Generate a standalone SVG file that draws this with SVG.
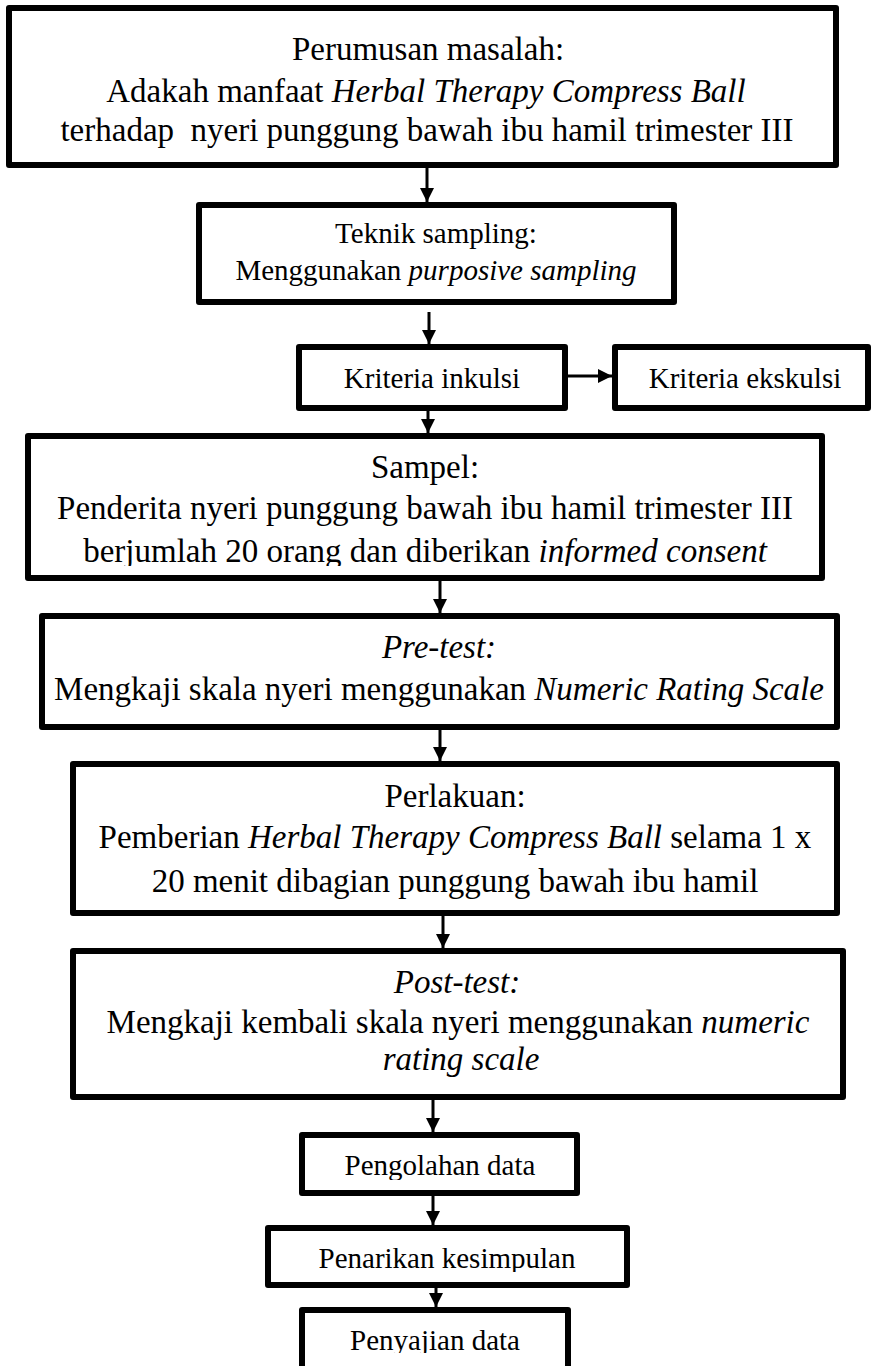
<svg xmlns="http://www.w3.org/2000/svg" width="871" height="1366" viewBox="0 0 871 1366">
<style>
.box{fill:#fff;stroke:#000;stroke-width:6;stroke-linejoin:round}
.t{font-family:"Liberation Serif","Times New Roman",serif;fill:#000;text-anchor:middle}
.L{font-size:33px}
.S{font-size:29px}
.i{font-style:italic}
.c{stroke:#000;stroke-width:3;fill:none}
</style>
<defs>
<marker id="ah" viewBox="0 0 14 14" refX="14" refY="7" markerWidth="14" markerHeight="14" markerUnits="userSpaceOnUse" orient="auto">
<path d="M0,0 L14,7 L0,14 z" fill="#000"/>
</marker>
<clipPath id="cl5"><rect x="0" y="420" width="871" height="146"/></clipPath>
<clipPath id="cl9"><rect x="0" y="1130" width="871" height="50"/></clipPath>
<clipPath id="cl10"><rect x="0" y="1225" width="871" height="47"/></clipPath>
<clipPath id="cl11"><rect x="0" y="1305" width="871" height="48"/></clipPath>
</defs>
<rect width="871" height="1366" fill="#fff"/>

<g id="connectors">
<line class="c" x1="427" y1="168" x2="427" y2="202" marker-end="url(#ah)"/>
<line class="c" x1="429" y1="312" x2="429" y2="344" marker-end="url(#ah)"/>
<line class="c" x1="568" y1="376" x2="612" y2="376" marker-end="url(#ah)"/>
<line class="c" x1="428" y1="411" x2="428" y2="433" marker-end="url(#ah)"/>
<line class="c" x1="440" y1="581" x2="440" y2="613" marker-end="url(#ah)"/>
<line class="c" x1="440" y1="730" x2="440" y2="761" marker-end="url(#ah)"/>
<line class="c" x1="443" y1="916" x2="443" y2="948" marker-end="url(#ah)"/>
<line class="c" x1="433" y1="1100" x2="433" y2="1132" marker-end="url(#ah)"/>
<line class="c" x1="433" y1="1196" x2="433" y2="1225" marker-end="url(#ah)"/>
<line class="c" x1="436" y1="1288" x2="436" y2="1307" marker-end="url(#ah)"/>
</g>

<g id="perumusan">
<rect class="box" x="9" y="8" width="827" height="157"/>
<text class="t L" x="428" y="60">Perumusan masalah:</text>
<text class="t L" x="426" y="102">Adakah manfaat <tspan class="i">Herbal Therapy Compress Ball</tspan></text>
<text class="t L" x="427" y="141" xml:space="preserve">terhadap  nyeri punggung bawah ibu hamil trimester III</text>
</g>

<g id="teknik">
<rect class="box" x="199" y="205" width="475" height="97"/>
<text class="t S" x="436" y="243">Teknik sampling:</text>
<text class="t S" x="436" y="280">Menggunakan <tspan class="i">purposive sampling</tspan></text>
</g>

<g id="inklusi">
<rect class="box" x="299" y="347" width="266" height="61"/>
<text class="t S" x="432" y="388">Kriteria inkulsi</text>
</g>

<g id="eksklusi">
<rect class="box" x="615" y="347" width="253" height="61"/>
<text class="t S" x="745" y="388">Kriteria ekskulsi</text>
</g>

<g id="sampel">
<rect class="box" x="28" y="436" width="794" height="142"/>
<text class="t L" x="425" y="478">Sampel:</text>
<text class="t L" x="425" y="519">Penderita nyeri punggung bawah ibu hamil trimester III</text>
<text class="t L" x="425" y="562" clip-path="url(#cl5)">berjumlah 20 orang dan diberikan <tspan class="i">informed consent</tspan></text>
</g>

<g id="pretest">
<rect class="box" x="42" y="616" width="795" height="111"/>
<text class="t L i" x="439" y="658">Pre-test:</text>
<text class="t L" x="439" y="700">Mengkaji skala nyeri menggunakan <tspan class="i">Numeric Rating Scale</tspan></text>
</g>

<g id="perlakuan">
<rect class="box" x="73" y="764" width="764" height="149"/>
<text class="t L" x="455" y="807">Perlakuan:</text>
<text class="t L" x="455" y="848">Pemberian <tspan class="i">Herbal Therapy Compress Ball</tspan> selama 1 x</text>
<text class="t L" x="455" y="892">20 menit dibagian punggung bawah ibu hamil</text>
</g>

<g id="posttest">
<rect class="box" x="73" y="951" width="770" height="146"/>
<text class="t L i" x="457" y="993">Post-test:</text>
<text class="t L" x="458" y="1033">Mengkaji kembali skala nyeri menggunakan <tspan class="i">numeric</tspan></text>
<text class="t L i" x="461" y="1070">rating scale</text>
</g>

<g id="pengolahan">
<rect class="box" x="302" y="1135" width="275" height="58"/>
<text class="t S" x="440" y="1175" clip-path="url(#cl9)">Pengolahan data</text>
</g>

<g id="penarikan">
<rect class="box" x="268" y="1228" width="359" height="57"/>
<text class="t S" x="447" y="1268" clip-path="url(#cl10)">Penarikan kesimpulan</text>
</g>

<g id="penyajian">
<rect class="box" x="302" y="1310" width="266" height="62"/>
<text class="t S" x="435" y="1350" clip-path="url(#cl11)">Penyajian data</text>
</g>
</svg>
